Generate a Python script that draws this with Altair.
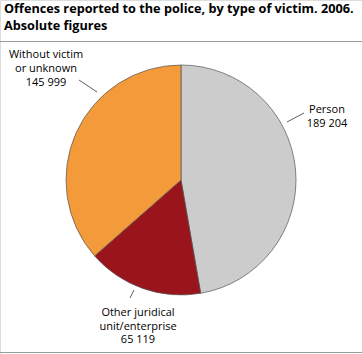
import altair as alt
import pandas as pd

categories = ["Person", "Other juridical unit/enterprise", "Without victim or unknown"]
values = [189204, 65119, 145999]
colors = ["#CCCCCC", "#99141B", "#F39A3B"]
label_lines = [
    ["Person", "189 204"],
    ["Other juridical", "unit/enterprise", "65 119"],
    ["Without victim", "or unknown", "145 999"],
]
title_lines = ["Offences reported to the police, by type of victim. 2006.", "Absolute figures"]

df = pd.DataFrame({"category": categories, "value": values, "order": [0, 1, 2]})

FONT = "Open Sans"
CX, CY, R = 181, 180, 115

pie = alt.Chart(df).mark_arc(outerRadius=R, stroke="#555555", strokeWidth=0.7).encode(
    theta=alt.Theta("value:Q", stack=True),
    order=alt.Order("order:Q"),
    color=alt.Color("category:N", scale=alt.Scale(domain=categories, range=colors), legend=None),
    x=alt.value(CX),
    y=alt.value(CY),
)

base = alt.Chart(pd.DataFrame({"a": [0]}))

def text(lines, x, y, size=11, weight="normal", align="center", lh=13.5):
    return base.mark_text(
        text=lines, font=FONT, fontSize=size, fontWeight=weight, align=align,
        baseline="alphabetic", lineHeight=lh, color="#000000",
    ).encode(x=alt.value(x), y=alt.value(y))

def seg(x1, y1, x2, y2, color="#333333", w=0.8):
    return base.mark_rule(color=color, strokeWidth=w).encode(
        x=alt.value(x1), y=alt.value(y1), x2=alt.value(x2), y2=alt.value(y2))

layers = [
    pie,
    text(title_lines, 4, 13, size=12.7, weight="bold", align="left", lh=17),
    seg(0, 41.5, 362, 41.5, color="#9a9a9a", w=1),
    seg(0, 352.5, 362, 352.5, color="#9a9a9a", w=1),
    text(label_lines[0], 327, 113, lh=14),
    text(label_lines[1], 138, 316, lh=13.5),
    text(label_lines[2], 46, 58, lh=14),
    seg(287, 122, 304, 113),
    seg(134, 290, 130, 298),
    seg(79, 80, 97, 92),
]

chart = alt.layer(*layers).properties(
    width=362, height=354, autosize=alt.AutoSizeParams(type="none"), padding=0
).configure_view(stroke=None).configure(background="white")

chart.save("out.html", embed_options={"renderer": "svg", "actions": False})
